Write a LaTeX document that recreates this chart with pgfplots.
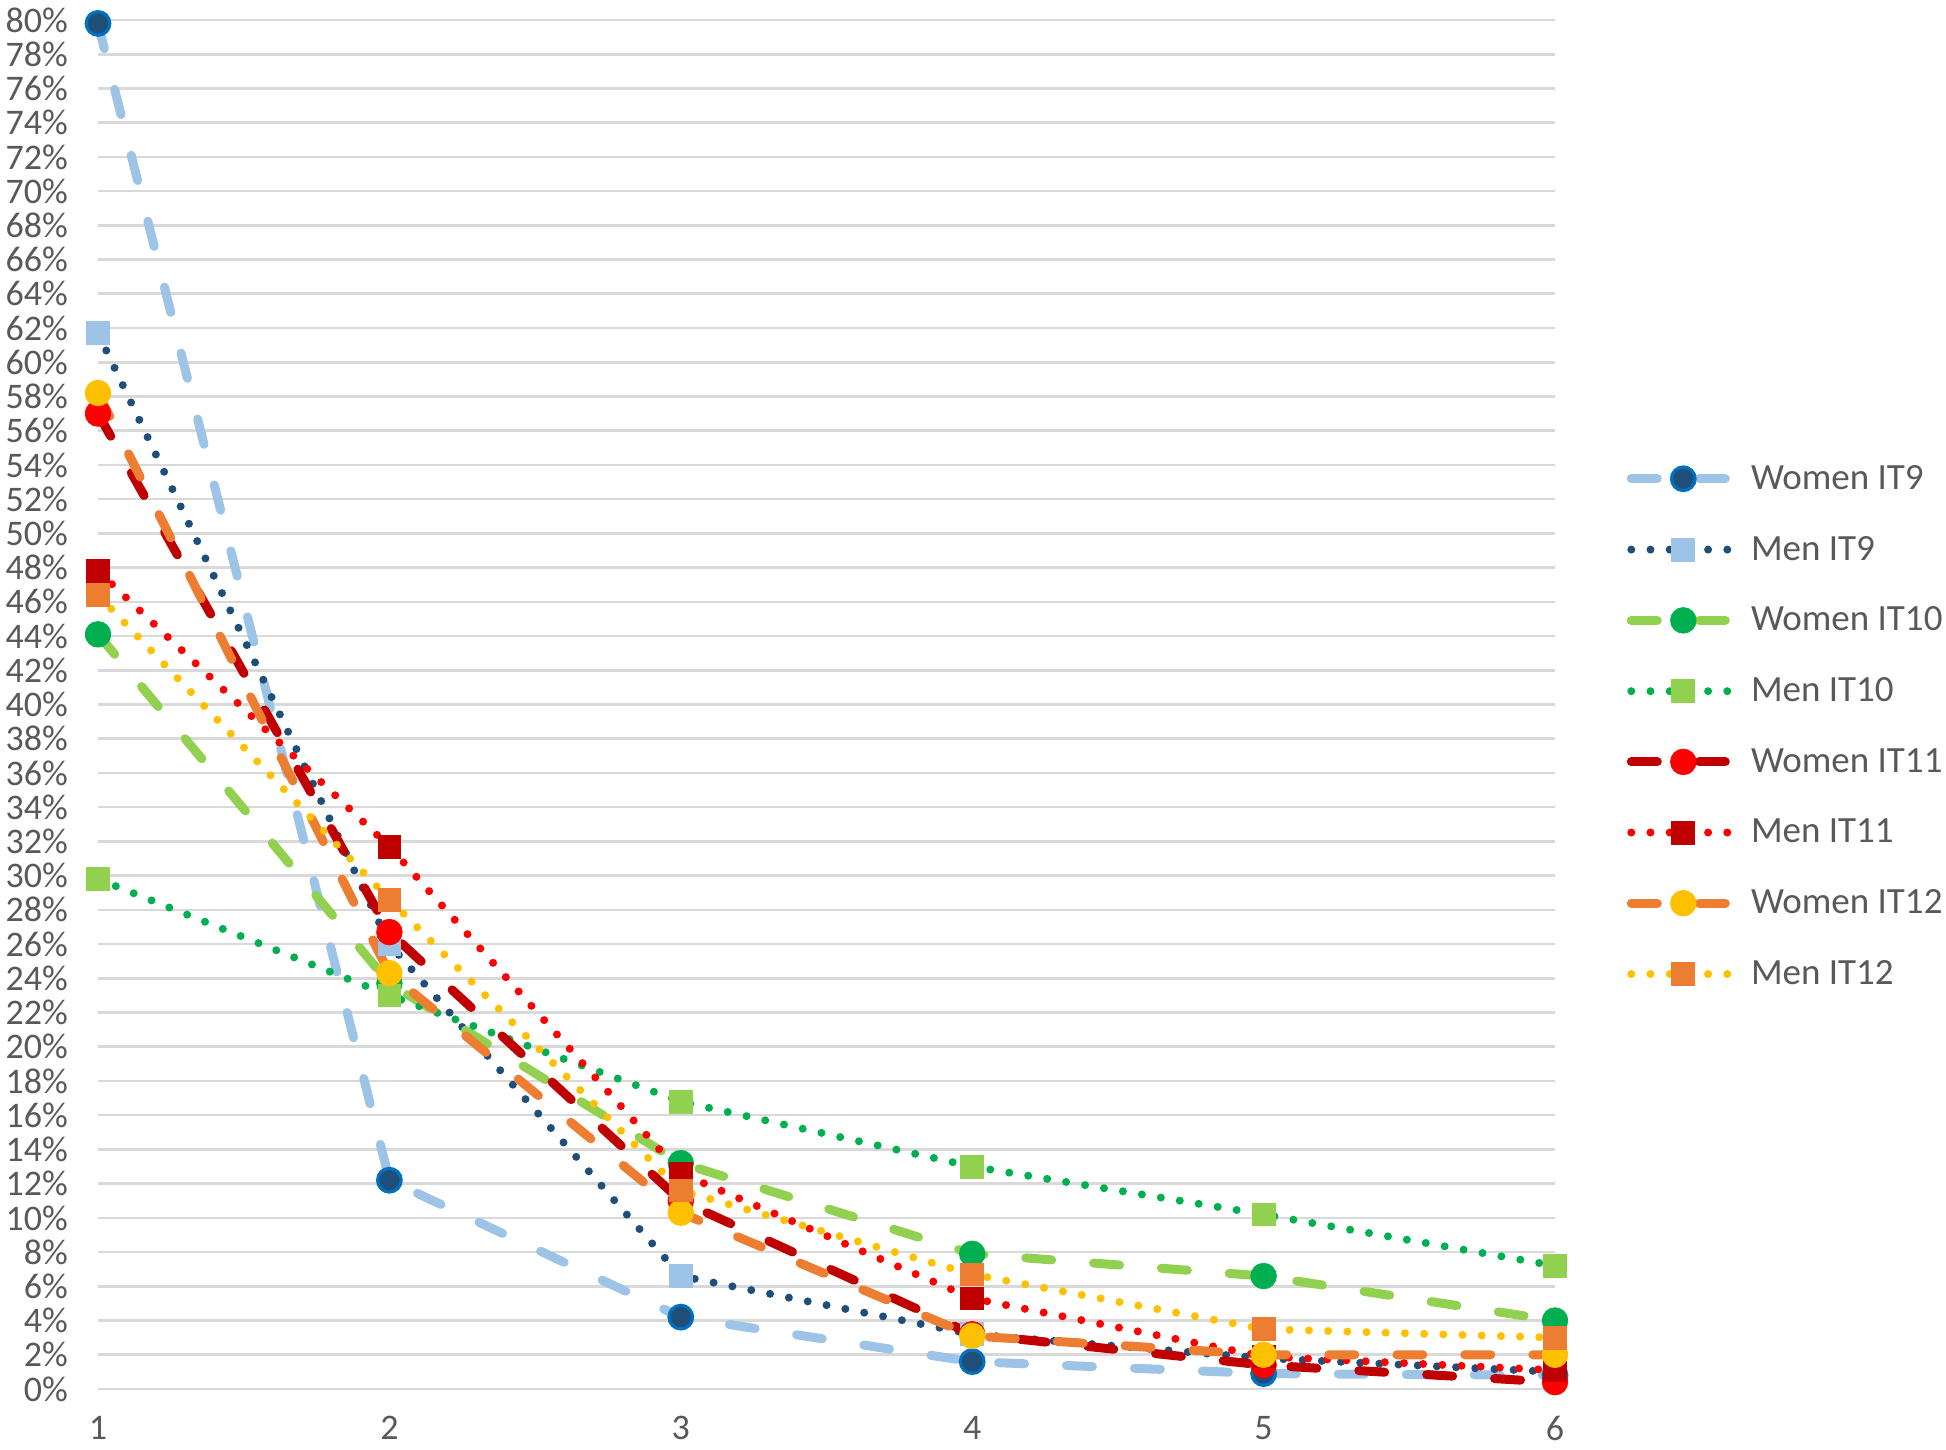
\documentclass[border=0pt]{standalone}
\usepackage{fontspec}
\setmainfont{Carlito}
\usepackage{pgfplots}
\usepackage{pgfplotstable}
\pgfplotsset{compat=1.18}
\definecolor{lblue}{HTML}{9DC3E6}
\definecolor{dblue}{HTML}{1F4E79}
\definecolor{mblue}{HTML}{0070C0}
\definecolor{lgreen}{HTML}{92D050}
\definecolor{dgreen}{HTML}{00B050}
\definecolor{dred}{HTML}{C00000}
\definecolor{bred}{HTML}{FF0000}
\definecolor{orng}{HTML}{ED7D31}
\definecolor{yllw}{HTML}{FFC000}
\definecolor{txt}{HTML}{595959}
\definecolor{grd}{HTML}{D9D9D9}

\pgfplotstableread{
x wit9 mit9 wit10 mit10 wit11 mit11 wit12 mit12
1 79.8 61.7 44.1 29.8 57.0 47.8 58.2 46.4
2 12.2 26.0 23.7 23.0 26.7 31.7 24.3 28.6
3 4.2  6.6  13.2 16.8 11.0 12.6 10.3 11.6
4 1.6  3.2  7.9  13.0 3.2  5.3  3.1  6.7
5 0.9  1.8  6.6  10.2 1.4  1.9  2.0  3.5
6 0.8  1.0  4.0  7.2  0.4  1.1  2.0  3.0
}\data

\begin{document}
\begin{tikzpicture}
\begin{axis}[
 scale only axis, width=728.5pt, height=684.5pt,
 xmin=1,xmax=6,ymin=0,ymax=80,
 xtick={1,...,6}, ytick={0,2,...,80},
 yticklabel={\pgfmathprintnumber{\tick}\%},
 /pgf/number format/assume math mode=true,
 ymajorgrids, grid style={grd, line width=1.3pt},
 axis line style={draw=none}, major tick length=0pt,
 tick label style={font=\fontsize{18}{20}\selectfont, text=txt},
 yticklabel style={xshift=-11.5pt},
 xticklabel style={inner sep=1pt, yshift=-12.3pt},
 clip=false,
 legend style={at={(1.049,0.484)}, anchor=west, draw=none, fill=none, inner sep=0pt, row sep=17.9pt, column sep=3.6pt, font=\fontsize{18.5}{20}\selectfont, text=txt},
 legend cell align=left,
 legend image code/.code={\draw[mark repeat=2,mark phase=2,#1] plot coordinates {(0pt,0pt)(26pt,0pt)(52pt,0pt)};},
 wline/.style={line width=4.5pt, line cap=round, dash pattern=on 13pt off 21pt},
 mline/.style={line width=4pt, line cap=round, dash pattern=on 0pt off 9.6pt},
]
\addplot[lblue, wline, mark=*, mark size=5.9pt, mark options={solid, fill=dblue, draw=mblue, line width=1.6pt}] table[x=x,y=wit9] {\data};
\addlegendentry{Women IT9}
\addplot[dblue, mline, mark=square*, mark size=5.7pt, mark options={solid, fill=lblue, draw=lblue, line width=0.4pt}] table[x=x,y=mit9] {\data};
\addlegendentry{Men IT9}
\addplot[lgreen, wline, mark=*, mark size=6.4pt, mark options={solid, fill=dgreen, draw=dgreen, line width=0.4pt}] table[x=x,y=wit10] {\data};
\addlegendentry{Women IT10}
\addplot[dgreen, mline, mark=square*, mark size=5.7pt, mark options={solid, fill=lgreen, draw=lgreen, line width=0.4pt}] table[x=x,y=mit10] {\data};
\addlegendentry{Men IT10}
\addplot[dred, wline, mark=*, mark size=6.4pt, mark options={solid, fill=bred, draw=bred, line width=0.4pt}] table[x=x,y=wit11] {\data};
\addlegendentry{Women IT11}
\addplot[bred, mline, mark=square*, mark size=5.7pt, mark options={solid, fill=dred, draw=dred, line width=0.4pt}] table[x=x,y=mit11] {\data};
\addlegendentry{Men IT11}
\addplot[orng, wline, mark=*, mark size=6.4pt, mark options={solid, fill=yllw, draw=yllw, line width=0.4pt}] table[x=x,y=wit12] {\data};
\addlegendentry{Women IT12}
\addplot[yllw, mline, mark=square*, mark size=5.7pt, mark options={solid, fill=orng, draw=orng, line width=0.4pt}] table[x=x,y=mit12] {\data};
\addlegendentry{Men IT12}
\end{axis}
\pgfresetboundingbox
\path[use as bounding box] ([shift={(-49pt,-30pt)}]current axis.south west) rectangle ([shift={(924pt,694.5pt)}]current axis.south west);
\end{tikzpicture}
\end{document}
